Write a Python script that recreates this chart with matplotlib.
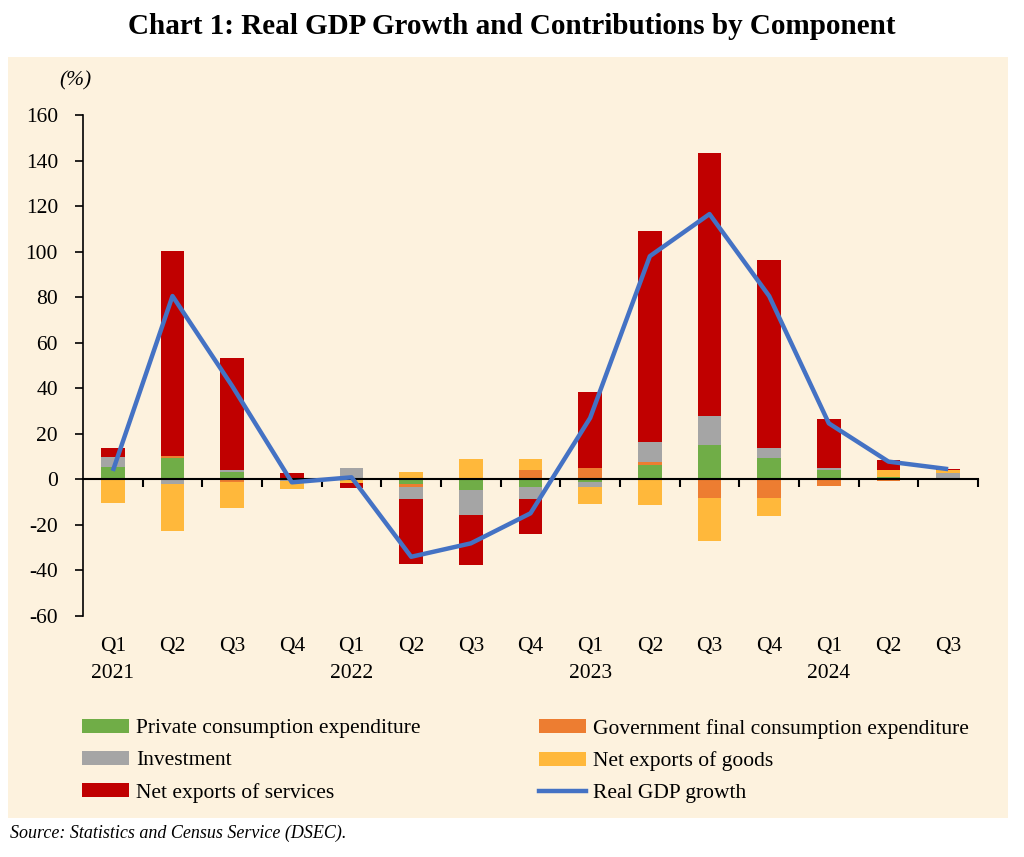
import matplotlib
matplotlib.use("Agg")
import matplotlib.pyplot as plt
import matplotlib.transforms as mtrans
from matplotlib.patches import Rectangle, Patch
from matplotlib.lines import Line2D
import numpy as np

plt.rcParams['font.family'] = ['Liberation Serif', 'DejaVu Serif']
plt.rcParams['axes.unicode_minus'] = False

quarters = ["Q1", "Q2", "Q3", "Q4", "Q1", "Q2", "Q3", "Q4", "Q1", "Q2", "Q3", "Q4", "Q1", "Q2", "Q3"]
years = {0: "2021", 4: "2022", 8: "2023", 12: "2024"}

private_consumption = [5.6, 9.3, 3.3, 0.4, 0.0, -1.9, -4.7, -3.5, -1.0, 6.3, 15.1, 9.3, 4.1, 1.2, 0.0]
government = [0.0, 0.8, -1.0, 0.0, 0.0, -1.3, 0.8, 4.1, 4.9, 1.5, -8.0, -8.0, -2.9, -0.8, 0.0]
investment = [4.1, -2.0, 0.8, -0.8, 4.9, -5.6, -10.9, -5.3, -2.2, 8.8, 12.7, 4.3, 1.0, 0.0, 3.0]
net_exports_goods = [-10.5, -20.5, -11.7, -3.6, -1.5, 3.4, 8.0, 4.9, -7.7, -11.2, -18.9, -8.1, 0.0, 2.8, 1.3]
net_exports_services = [4.2, 90.3, 49.1, 2.3, -2.4, -28.5, -22.0, -15.3, 33.6, 92.4, 115.5, 82.6, 21.4, 4.5, 0.3]
real_gdp_growth = [3.7, 80.5, 41.0, -1.3, 0.9, -34.0, -28.1, -14.9, 27.0, 98.0, 116.5, 80.5, 24.6, 7.8, 4.5]

series = [
    ("Private consumption expenditure", private_consumption, "#70AD47"),
    ("Government final consumption expenditure", government, "#ED7D31"),
    ("Investment", investment, "#A5A5A5"),
    ("Net exports of goods", net_exports_goods, "#FFB83B"),
    ("Net exports of services", net_exports_services, "#C00000"),
]

W, H = 1024, 857
fig = plt.figure(figsize=(W / 100, H / 100), dpi=100)
fig.patch.set_facecolor("white")

# background panel
fig.patches.append(Rectangle((8 / W, 1 - 818 / H), 1000 / W, 761 / H,
                             transform=fig.transFigure, facecolor="#FDF2DE",
                             edgecolor="none", zorder=-5))

fig.text(0.5, 1 - 26 / H, "Chart 1: Real GDP Growth and Contributions by Component",
         ha="center", va="center", fontsize=21, fontweight="bold")
fig.text(10 / W, 1 - 833 / H, "Source: Statistics and Census Service (DSEC).",
         ha="left", va="center", fontsize=13, style="italic")

left, right, top, bottom = 83, 978, 115, 616
ax = fig.add_axes([left / W, 1 - bottom / H, (right - left) / W, (bottom - top) / H])
ax.patch.set_alpha(0)
ax.set_zorder(2)

x = np.arange(len(quarters))
pos_base = np.zeros(len(x))
neg_base = np.zeros(len(x))
for name, vals, col in series:
    v = np.array(vals, dtype=float)
    pos = np.where(v > 0, v, 0)
    neg = np.where(v < 0, v, 0)
    ax.bar(x, pos, 0.4, bottom=pos_base, color=col, zorder=2)
    ax.bar(x, neg, 0.4, bottom=neg_base, color=col, zorder=2)
    pos_base += pos
    neg_base += neg

ax.plot(x, real_gdp_growth, color="#4472C4", lw=3.2, zorder=3, solid_capstyle="butt")

ax.set_xlim(-0.5, len(x) - 0.5)
ax.set_ylim(-60, 160)
ax.set_yticks(np.arange(-60, 161, 20))
ax.tick_params(axis="y", direction="out", length=6, width=1.2, labelsize=15.5, pad=12)
for s in ["top", "right"]:
    ax.spines[s].set_visible(False)
ax.spines["left"].set_linewidth(1.2)
ax.spines["bottom"].set_position(("data", 0))
ax.spines["bottom"].set_linewidth(1.5)
ax.set_xticks(np.arange(0.5, len(x) - 0.4, 1.0))
ax.set_xticklabels([])
ax.tick_params(axis="x", direction="out", length=6, width=1.5)

trans = mtrans.blended_transform_factory(ax.transData, fig.transFigure)
for i, q in enumerate(quarters):
    ax.text(i, 1 - 646 / H, q, transform=trans, ha="center", va="center", fontsize=15.5)
    if i in years:
        ax.text(i, 1 - 674 / H, years[i], transform=trans, ha="center", va="center", fontsize=15.5)

fig.text(75 / W, 1 - 81 / H, "(%)", ha="center", va="center", fontsize=15.5, style="italic")

handles = [Patch(facecolor=c, edgecolor="none") for _, _, c in series]
labels = [n for n, _, _ in series]
handles.append(Line2D([0], [0], color="#4472C4", lw=3.2))
labels.append("Real GDP growth")

leg_kw = dict(frameon=False, fontsize=15.5, handlelength=2.2, handleheight=0.6,
              handletextpad=0.3, labelspacing=0.58, borderaxespad=0, borderpad=0,
              loc="upper left")
leg1 = fig.legend([handles[i] for i in (0, 2, 4)], [labels[i] for i in (0, 2, 4)],
                  bbox_to_anchor=(82 / W, 1 - 719 / H), **leg_kw)
leg2 = fig.legend([handles[i] for i in (1, 3, 5)], [labels[i] for i in (1, 3, 5)],
                  bbox_to_anchor=(539 / W, 1 - 719 / H), **leg_kw)

fig.savefig("out.png", dpi=100)
